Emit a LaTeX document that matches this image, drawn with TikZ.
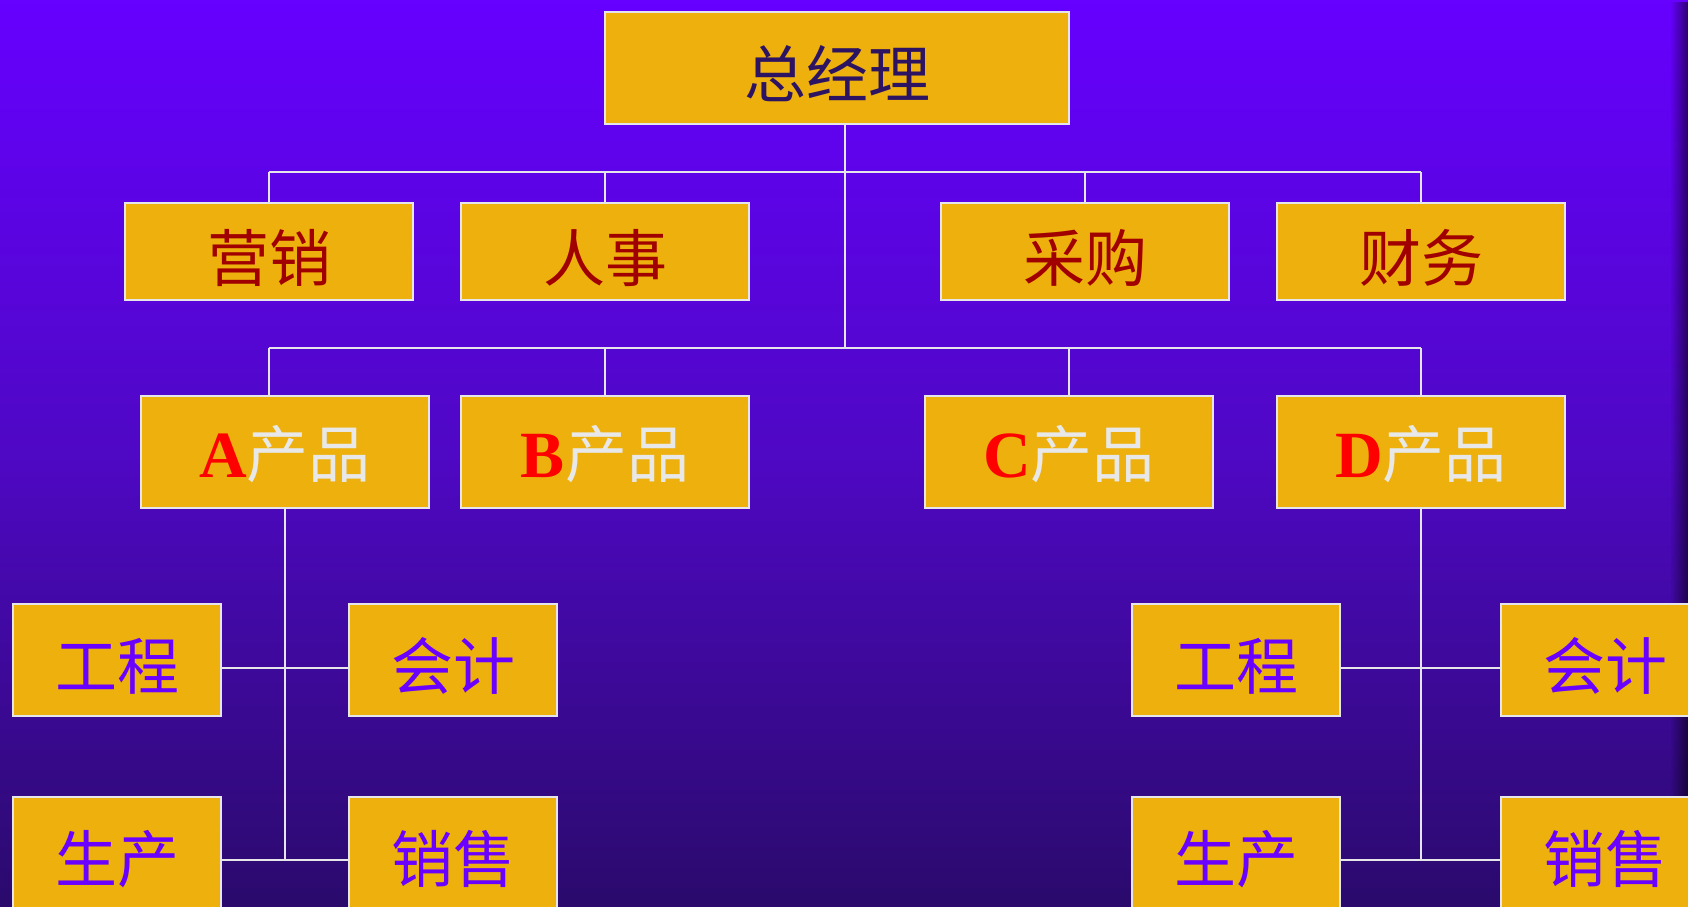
\documentclass[tikz,border=0pt]{standalone}
\usepackage{fontspec}
\newfontfamily\cjk{Noto Sans CJK SC}
\newfontfamily\tnr{Liberation Serif}
\usetikzlibrary{fadings}
\definecolor{bgtop}{HTML}{6600FF}
\definecolor{bgmid}{HTML}{4F08C4}
\definecolor{bgbot}{HTML}{2A0A6C}
\definecolor{boxfill}{HTML}{EDB00C}
\definecolor{boxline}{HTML}{E6E6EA}
\definecolor{conn}{HTML}{E6E6EA}
\definecolor{gmtext}{HTML}{2D1462}
\definecolor{deptext}{HTML}{A00000}
\definecolor{prodtext}{HTML}{E8E8E8}
\definecolor{lettext}{HTML}{FF0000}
\definecolor{subtext}{HTML}{6A00FF}
\tikzset{
  orgbox/.style={draw=boxline, line width=2.5pt, fill=boxfill, inner sep=0pt,
    font=\cjk\fontsize{62}{62}\selectfont, text height=66pt, text depth=7pt},
  gmbox/.style={orgbox, minimum width=464pt, minimum height=112pt, text=gmtext},
  depbox/.style={orgbox, minimum width=288pt, minimum height=97pt, text=deptext},
  prodbox/.style={orgbox, minimum width=288pt, minimum height=112pt, text=prodtext,
    text height=58pt},
  subbox/.style={orgbox, minimum width=208pt, minimum height=112pt, text=subtext},
  wire/.style={draw=conn, line width=2pt},
}
\newcommand{\prodlabel}[1]{{\tnr\bfseries\fontsize{66}{66}\selectfont\color{lettext}#1}产品}
\begin{document}
\begin{tikzpicture}[x=1pt,y=-1pt]
\useasboundingbox (0,0) rectangle (1688,906);
\shade[top color=bgtop, bottom color=bgbot, middle color=bgmid] (0,0) rectangle (1688,906);
\fill[black, opacity=0.55, path fading=west] (1670,0) rectangle (1688,906);

% top
\node[gmbox] (gm) at (837,68) {总经理};
% departments
\node[depbox] (yx) at (269,251.5) {营销};
\node[depbox] (rs) at (605,251.5) {人事};
\node[depbox] (cg) at (1085,251.5) {采购};
\node[depbox] (cw) at (1421,251.5) {财务};
% products
\node[prodbox] (pa) at (285,452) {\prodlabel{A}};
\node[prodbox] (pb) at (605,452) {\prodlabel{B}};
\node[prodbox] (pc) at (1069,452) {\prodlabel{C}};
\node[prodbox] (pd) at (1421,452) {\prodlabel{D}};
% sub units left
\node[subbox] (ae) at (117,660) {工程};
\node[subbox] (aa) at (453,660) {会计};
\node[subbox] (ap) at (117,853) {生产};
\node[subbox] (as) at (453,853) {销售};
% sub units right
\node[subbox] (de) at (1236,660) {工程};
\node[subbox] (da) at (1605,660) {会计};
\node[subbox] (dp) at (1236,853) {生产};
\node[subbox] (ds) at (1605,853) {销售};

% bus coordinates
\coordinate (gmdrop) at (845,0);
\coordinate (bus1) at (0,172);
\coordinate (bus2) at (0,348);
\coordinate (adrop) at (269,0);
\coordinate (row4) at (0,668);
\coordinate (row5) at (0,860);

% connectors from general manager
\draw[wire] (gm.south -| gmdrop) -- (gmdrop |- bus2);
\draw[wire] (yx.north |- bus1) -- (cw.north |- bus1);
\draw[wire] (yx.north |- bus1) -- (yx.north);
\draw[wire] (rs.north |- bus1) -- (rs.north);
\draw[wire] (cg.north |- bus1) -- (cg.north);
\draw[wire] (cw.north |- bus1) -- (cw.north);
\draw[wire] (adrop |- bus2) -- (pd.north |- bus2);
\draw[wire] (adrop |- bus2) -- (adrop |- pa.north);
\draw[wire] (pb.north |- bus2) -- (pb.north);
\draw[wire] (pc.north |- bus2) -- (pc.north);
\draw[wire] (pd.north |- bus2) -- (pd.north);

% A product subtree
\draw[wire] (pa.south) -- (pa.south |- row5);
\draw[wire] (ae.east |- row4) -- (aa.west |- row4);
\draw[wire] (ap.east |- row5) -- (as.west |- row5);
% D product subtree
\draw[wire] (pd.south) -- (pd.south |- row5);
\draw[wire] (de.east |- row4) -- (da.west |- row4);
\draw[wire] (dp.east |- row5) -- (ds.west |- row5);
\end{tikzpicture}
\end{document}
